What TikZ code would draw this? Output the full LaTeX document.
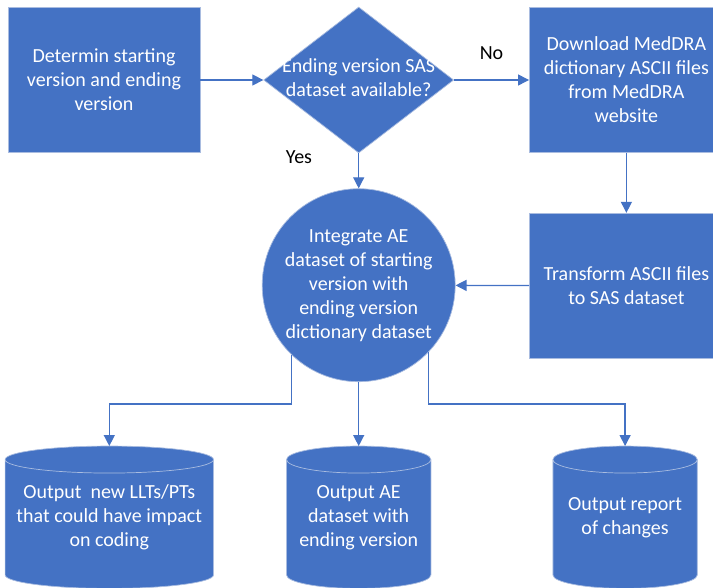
\documentclass[tikz,border=0pt]{standalone}
\usepackage{fontspec}
\setmainfont{Carlito}
\usetikzlibrary{arrows.meta,positioning,shapes.geometric,backgrounds,calc}

\definecolor{boxblue}{HTML}{4472C4}
\definecolor{boxline}{HTML}{A9BCE0}

\tikzset{
  base/.style={fill=boxblue, draw=boxline, line width=0.7pt, text=white,
    font=\fontsize{20}{24}\selectfont, align=center, inner sep=0pt},
  procbox/.style={base, rectangle, minimum width=194pt, minimum height=145pt},
  decision/.style={base, diamond, minimum width=190pt, minimum height=146pt},
  merge/.style={base, circle, minimum size=193pt},
  store/.style={rectangle, text=white, font=\fontsize{20}{24}\selectfont,
    align=center, inner sep=0pt, minimum height=142pt},
  storebody/.style={fill=boxblue, draw=boxline, line width=0.7pt},
  lbl/.style={font=\fontsize{20}{24}\selectfont, inner sep=0pt},
  flow/.style={draw=boxblue, line width=1.3pt, -{Triangle[length=11pt,width=11pt]}}
}

\newcommand{\squeeze}[1]{\makebox[0pt]{\begin{tabular}{@{}c@{}}#1\end{tabular}}}

\begin{document}
\begin{tikzpicture}[x=1pt,y=-1pt]
\useasboundingbox (0,0) rectangle (713,588);

\node (start) [procbox, minimum width=192pt] at (104,80)
{Determin starting\\version and ending\\version};

\node (avail) [decision, right=63pt of start]
{\squeeze{Ending version SAS\\dataset available?}};

\node (meddra) [procbox, right=75pt of avail]
{Download MedDRA\\dictionary ASCII files\\from MedDRA\\website};

\node (integ) [merge, below=35pt of avail]
{Integrate AE\\dataset of starting\\version with\\ending version\\dictionary dataset};

\node (trans) [procbox, below=60pt of meddra]
{Transform ASCII files\\to SAS dataset};

% outputs (cylinders drawn behind)
\node (outae) [store, minimum width=144pt, below=64pt of integ]
{Output AE\\dataset with\\ending version};

\node (outllt) [store, minimum width=208pt, left=73pt of outae]
{Output\ \ new LLTs/PTs\\that could have impact\\on coding};

\node (outrep) [store, minimum width=144pt, right=122pt of outae]
{Output report\\of changes};

\begin{scope}[on background layer]
\foreach \cyl in {outllt,outae,outrep}{
  \path[storebody] let \p1=(\cyl.north west), \p2=(\cyl.south east),
    \n1={(\x2-\x1)/2} in
    (\x1,\y1-13.5pt) -- (\x1,\y2+13.5pt)
    arc[start angle=180, end angle=360, x radius=\n1, y radius=13.5pt]
    -- (\x2,\y1-13.5pt)
    arc[start angle=0, end angle=180, x radius=\n1, y radius=13.5pt]
    -- cycle
    (\x1,\y1-13.5pt)
    arc[start angle=180, end angle=360, x radius=\n1, y radius=13.5pt];
}
\end{scope}

\draw[flow] (start) -- (avail);
\draw[flow] (avail) -- node[lbl, above=20pt] {No} (meddra);
\draw[flow] (avail) -- node[lbl, pos=0.1, left=46pt] {Yes} (integ);
\draw[flow] (meddra) -- (trans);
\draw[flow] (trans) -- (integ);

\draw[flow] (integ.-134) |- ([yshift=42pt]outllt.north) -- (outllt.north);
\draw[flow] (integ) -- (outae);
\draw[flow] (integ.-44) |- ([yshift=42pt]outrep.north) -- (outrep.north);

\end{tikzpicture}
\end{document}
